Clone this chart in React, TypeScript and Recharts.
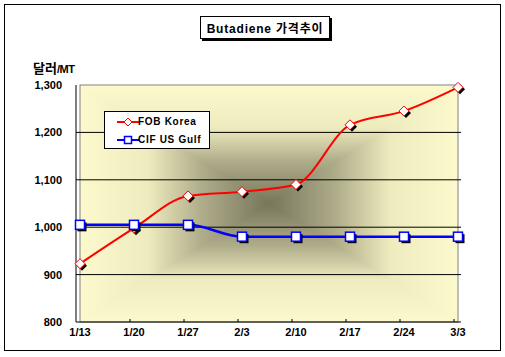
import React from 'react';
import { LineChart, Line, XAxis, YAxis, ReferenceArea, ReferenceLine } from 'recharts';

const categories = ['1/13', '1/20', '1/27', '2/3', '2/10', '2/17', '2/24', '3/3'];
const fobKorea = [923, 998, 1066, 1075, 1090, 1216, 1245, 1295];
const cifUsGulf = [1005, 1005, 1005, 980, 980, 980, 980, 980];
const yTicks = [800, 900, 1000, 1100, 1200, 1300];
const gridValues = [900, 1000, 1100, 1200];

const data = categories.map((c, i) => ({ date: c, fob: fobKorea[i], cif: cifUsGulf[i] }));

const FONT = '"Liberation Sans", Arial, sans-serif';
const KFONT = '"Liberation Sans", "Noto Sans CJK KR", sans-serif';

const diamond = (cx: number, cy: number, r: number) =>
  `M${cx},${cy - r}L${cx + r},${cy}L${cx},${cy + r}L${cx - r},${cy}Z`;

const RedDot = (p: any) => {
  const { cx, cy, index } = p;
  if (cx == null || cy == null) return <g key={`r${index}`} />;
  return (
    <g key={`r${index}`}>
      <path d={diamond(cx + 2, cy + 2, 5)} fill="#000" />
      <path d={diamond(cx, cy, 5)} fill="#fff" stroke="#ff0000" strokeWidth={1} />
    </g>
  );
};

const BlueDot = (p: any) => {
  const { cx, cy, index } = p;
  if (cx == null || cy == null) return <g key={`b${index}`} />;
  return (
    <g key={`b${index}`}>
      <rect x={cx - 4.5 + 2} y={cy - 4.5 + 2} width={9} height={9} fill="#000" />
      <rect x={cx - 4.5} y={cy - 4.5} width={9} height={9} fill="#fff" stroke="#0000ff" strokeWidth={1.5} />
    </g>
  );
};

const stops = (id: string, vertical: boolean, x: number, y: number, w: number, h: number) => {
  const c = ['#fcfacc', '#eeebbe', '#b0ad8b', '#77765b', '#b0ad8b', '#eeebbe', '#fcfacc'];
  const o = [0, 0.18, 0.32, 0.5, 0.68, 0.82, 1];
  return (
    <linearGradient
      id={id}
      gradientUnits="userSpaceOnUse"
      x1={x}
      y1={y}
      x2={vertical ? x : x + w}
      y2={vertical ? y + h : y}
    >
      {c.map((col, i) => (
        <stop key={i} offset={o[i]} stopColor={col} />
      ))}
    </linearGradient>
  );
};

const Background = (p: any) => {
  const { x, y, width, height } = p;
  const cx = x + width / 2;
  const cy = y + height / 2;
  return (
    <g>
      <defs>
        {stops('bgV', true, x, y, width, height)}
        {stops('bgH', false, x, y, width, height)}
      </defs>
      <rect x={x} y={y} width={width} height={height} fill="url(#bgV)" />
      <polygon points={`${x},${y} ${cx},${cy} ${x},${y + height}`} fill="url(#bgH)" />
      <polygon points={`${x + width},${y} ${cx},${cy} ${x + width},${y + height}`} fill="url(#bgH)" />
      <rect x={x} y={y} width={width} height={height} fill="none" stroke="#808080" strokeWidth={1} />
    </g>
  );
};

const XTick = (p: any) => {
  const { x, y, payload, index } = p;
  return (
    <g>
      {index > 0 && <line x1={x - 4} y1={y - 3} x2={x - 4} y2={y} stroke="#000" />}
      <text
        x={x}
        y={y + 10}
        textAnchor="middle"
        dominantBaseline="central"
        fontFamily={FONT}
        fontWeight="bold"
        fontSize={11}
        fill="#000"
      >
        {payload.value}
      </text>
    </g>
  );
};

const fmt = (v: number) => v.toLocaleString('en-US');

export default function App() {
  return (
    <div style={{ position: 'absolute', left: 0, top: 0, width: 505, height: 357, background: '#fff' }}>
      <div
        style={{
          position: 'absolute',
          left: 4,
          top: 4,
          width: 497,
          height: 347,
          border: '1px solid #000',
          boxSizing: 'border-box',
        }}
      />
      <LineChart
        width={505}
        height={357}
        data={data}
        margin={{ top: 85, right: 44, bottom: 5, left: 0 }}
        style={{ position: 'absolute', left: 0, top: 0 }}
      >
        <XAxis
          dataKey="date"
          height={30}
          padding={{ left: 4, right: 3 }}
          tickSize={0}
          tickMargin={0}
          tickLine={false}
          axisLine={{ stroke: '#000' }}
          tick={<XTick />}
          interval={0}
        />
        <YAxis
          width={76}
          domain={[800, 1300]}
          ticks={yTicks}
          tickFormatter={fmt}
          tickSize={0}
          tickMargin={14}
          tickLine={false}
          axisLine={{ stroke: '#000' }}
          tick={{ fill: '#000', fontSize: 11, fontWeight: 'bold', fontFamily: FONT }}
        />
        <ReferenceArea y1={800} y2={1300} shape={<Background />} ifOverflow="visible" />
        {gridValues.map((v) => (
          <ReferenceLine key={v} y={v} stroke="#000" strokeWidth={1} />
        ))}
        <Line
          type="monotone"
          dataKey="fob"
          stroke="#ff0000"
          strokeWidth={2}
          dot={RedDot}
          isAnimationActive={false}
        />
        <Line
          type="monotone"
          dataKey="cif"
          stroke="#0000ff"
          strokeWidth={2.5}
          dot={BlueDot}
          isAnimationActive={false}
        />
      </LineChart>
      <div
        style={{
          position: 'absolute',
          left: 200,
          top: 16,
          width: 130,
          height: 23,
          border: '1px solid #000',
          boxShadow: '2px 2px 0 #000',
          background: '#fff',
          boxSizing: 'border-box',
          display: 'flex',
          alignItems: 'center',
          justifyContent: 'center',
          fontFamily: KFONT,
          fontWeight: 'bold',
          fontSize: 12,
          letterSpacing: 0.8,
          whiteSpace: 'nowrap',
        }}
      >
        Butadiene 가격추이
      </div>
      <div
        style={{
          position: 'absolute',
          left: 33,
          top: 60,
          fontFamily: KFONT,
          fontWeight: 'bold',
          whiteSpace: 'nowrap',
          lineHeight: '16px',
        }}
      >
        <span style={{ fontSize: 13 }}>달러</span>
        <span style={{ fontSize: 11, letterSpacing: -0.5 }}>/MT</span>
      </div>
      <div
        style={{
          position: 'absolute',
          left: 104,
          top: 111,
          width: 106,
          height: 38,
          border: '1px solid #000',
          background: '#fff',
          boxSizing: 'border-box',
        }}
      >
        {[
          { name: 'FOB Korea', color: '#ff0000', shape: 'diamond', top: 9.5 },
          { name: 'CIF US Gulf', color: '#0000ff', shape: 'square', top: 27.5 },
        ].map((it) => (
          <div key={it.name} style={{ position: 'absolute', left: 0, top: it.top - 8, height: 16, width: 104 }}>
            <svg width={24} height={16} style={{ position: 'absolute', left: 11, top: 0 }}>
              <line x1={1} y1={8} x2={23} y2={8} stroke={it.color} strokeWidth={2} />
              {it.shape === 'diamond' ? (
                <path d={diamond(12, 8, 4)} fill="#fff" stroke={it.color} strokeWidth={1} />
              ) : (
                <rect x={8.5} y={4.5} width={7} height={7} fill="#fff" stroke={it.color} strokeWidth={1.5} />
              )}
            </svg>
            <span
              style={{
                position: 'absolute',
                left: 33,
                top: 0,
                lineHeight: '16px',
                fontFamily: FONT,
                fontWeight: 'bold',
                fontSize: 10,
                letterSpacing: 0.7,
                whiteSpace: 'nowrap',
              }}
            >
              {it.name}
            </span>
          </div>
        ))}
      </div>
    </div>
  );
}
